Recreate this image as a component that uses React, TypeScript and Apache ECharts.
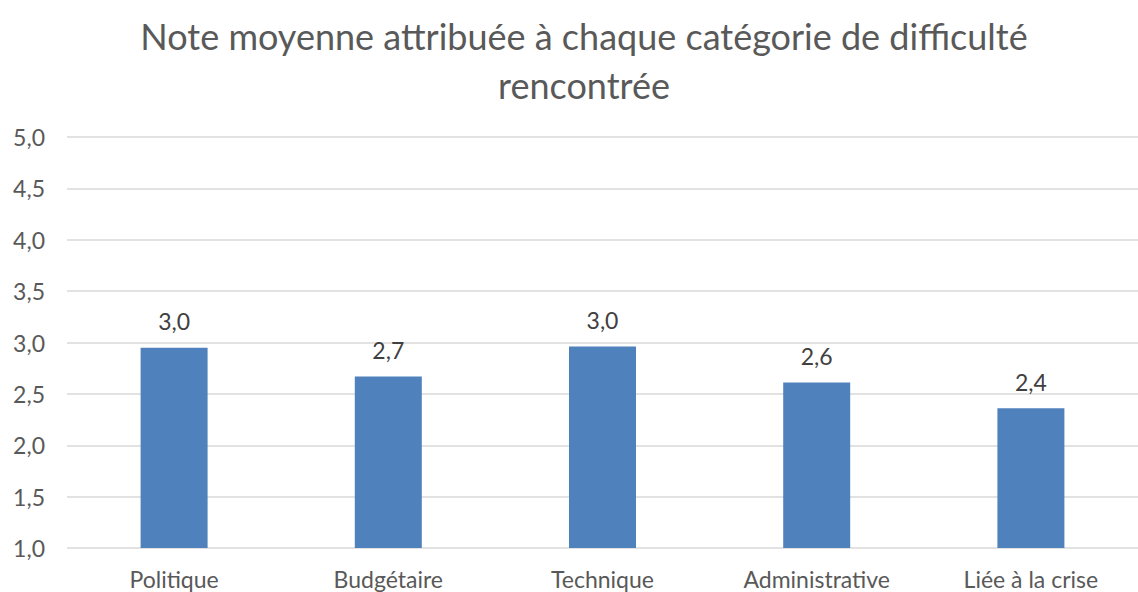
import React, { useEffect, useRef } from "react";
import * as echarts from "echarts";

const categories = ["Politique", "Budgétaire", "Technique", "Administrative", "Liée à la crise"];
const values = [2.95, 2.67, 2.96, 2.61, 2.36];
const titleText = "Note moyenne attribuée à chaque catégorie de difficulté\nrencontrée";

const fmt = (v: number) => (Math.round(v * 10) / 10).toFixed(1).replace(".", ",");
const FONT = "Lato";

export default function App() {
  const ref = useRef<HTMLDivElement>(null);
  useEffect(() => {
    const chart = echarts.init(ref.current!, undefined, { renderer: "svg" });
    chart.setOption({
      animation: false,
      backgroundColor: "#ffffff",
      textStyle: { fontFamily: FONT },
      title: {
        text: titleText,
        left: 579,
        textAlign: "center",
        top: 6,
        textStyle: {
          fontFamily: FONT,
          fontSize: 36,
          fontWeight: "normal",
          color: "#595959",
          lineHeight: 49,
        },
      },
      grid: { left: 67, right: -8, top: 137, bottom: 44, containLabel: false },
      xAxis: {
        type: "category",
        data: categories,
        axisLine: { show: false },
        axisTick: { show: false },
        axisLabel: { color: "#595959", fontSize: 23, margin: 19, fontFamily: FONT },
      },
      yAxis: {
        type: "value",
        min: 1,
        max: 5,
        interval: 0.5,
        axisLine: { show: false },
        axisTick: { show: false },
        axisLabel: {
          color: "#595959",
          fontSize: 23,
          margin: 22,
          fontFamily: FONT,
          formatter: (v: number) => v.toFixed(1).replace(".", ","),
        },
        splitLine: { lineStyle: { color: "#d9d9d9", width: 1.5 } },
      },
      series: [
        {
          type: "bar",
          data: values,
          barWidth: 67,
          itemStyle: { color: "#4f81bd" },
          label: {
            show: true,
            position: "top",
            distance: 15,
            color: "#404040",
            fontSize: 23,
            fontFamily: FONT,
            formatter: (p: any) => fmt(p.value),
          },
        },
      ],
    });
    return () => chart.dispose();
  }, []);
  return (
    <div
      ref={ref}
      style={{ position: "fixed", left: 0, top: 0, width: 1138, height: 592 }}
    />
  );
}
